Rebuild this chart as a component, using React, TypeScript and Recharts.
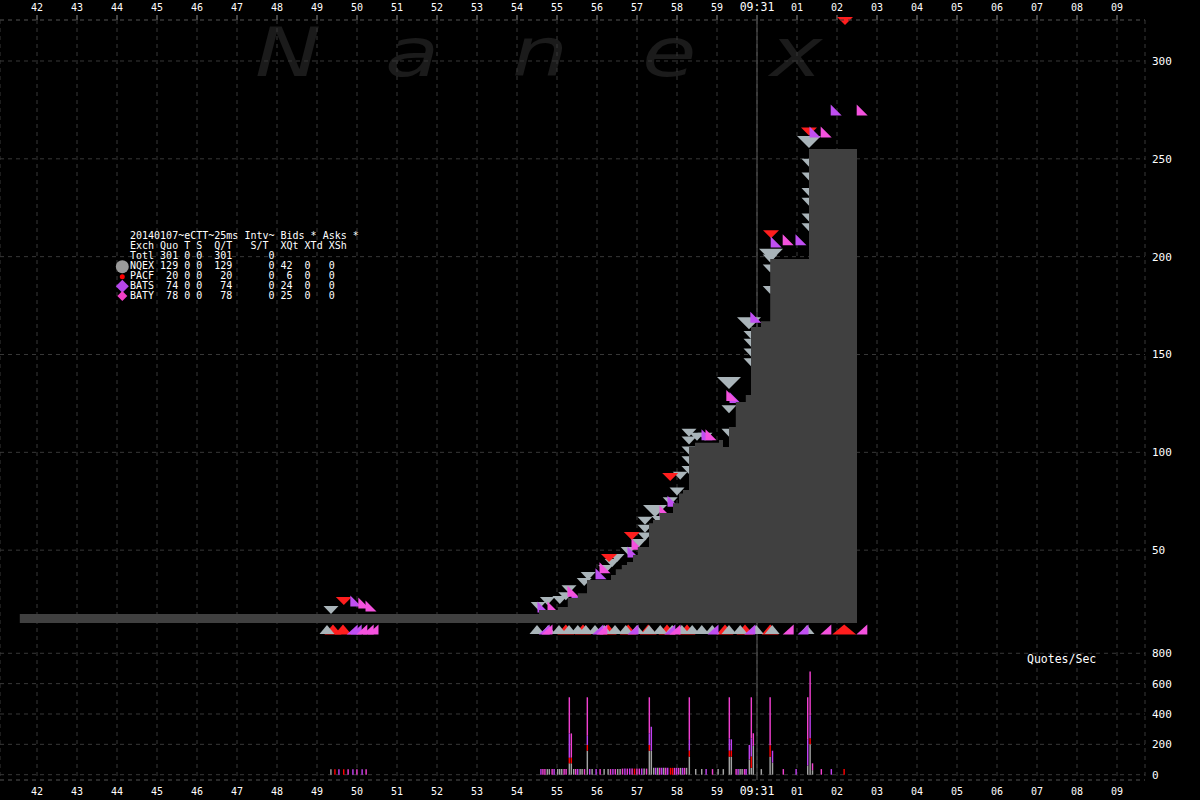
import React from 'react';
import { ComposedChart, Area, Scatter, Bar, XAxis, YAxis, CartesianGrid, ReferenceLine } from 'recharts';

const MONO = "'DejaVu Sans Mono', 'Liberation Mono', monospace";

// time axis: seconds relative to 09:31:00
const secondTicks = [-18, -17, -16, -15, -14, -13, -12, -11, -10, -9, -8, -7, -6, -5, -4, -3, -2, -1, 0, 1, 2, 3, 4, 5, 6, 7, 8, 9];
const secondLabels = ['42', '43', '44', '45', '46', '47', '48', '49', '50', '51', '52', '53', '54', '55', '56', '57', '58', '59', '09:31', '01', '02', '03', '04', '05', '06', '07', '08', '09'];
const priceTicks = [50, 100, 150, 200, 250, 300];
const quoteTicks = [0, 200, 400, 600, 800];

// best bid, stepped
const bidTimes = [-18.43, -5.45, -4.98, -4.73, -4.48, -4.25, -3.65, -3.53, -3.38, -3.25, -3.1, -2.98, -2.7, -2.6, -2.43, -2.1, -1.95, -1.85, -1.7, -1.55, -0.95, -0.85, -0.7, -0.53, -0.28, -0.15, 0.1, 0.33, 1.3, 2.5];
const bidLevels = [17.4, 19.4, 21, 25.5, 28, 34.7, 37.3, 40.3, 42.4, 44, 47.5, 51.6, 63.8, 65.4, 69, 74, 79, 80.7, 102.7, 104.9, 106.3, 102.7, 112.9, 125.7, 129.3, 164, 167, 198.8, 255, 255];

// quote markers [time, price]
const nqexBig = [[-0.7, 135.4], [1.3, 258.6], [-0.2, 166], [-2.55, 70], [0.35, 201]];
const nqexSmall = [
  [-10.65, 19.4], [-5.47, 21.5], [-5.24, 24], [-4.93, 24.5], [-4.78, 26.5], [-4.7, 30], [-4.32, 33.7], [-4.22, 36.8],
  [-3.78, 40.4], [-3.62, 43.4], [-3.5, 46], [-3.22, 49.6], [-2.95, 53.7], [-2.8, 57], [-2.8, 61], [-2.8, 65],
  [-2.45, 65.4], [-2.17, 75], [-2.0, 80], [-1.92, 88], [-1.7, 91], [-1.7, 96], [-1.7, 101], [-1.7, 106], [-1.7, 110],
  [-1.5, 108], [-1.3, 108], [-0.7, 110], [-0.7, 122], [-0.15, 146], [-0.15, 151], [-0.15, 156], [-0.15, 160],
  [0.33, 183], [0.33, 194], [0.33, 199], [1.3, 215], [1.3, 220], [1.3, 228], [1.3, 233], [1.3, 241], [1.3, 248],
];
const pacfBids = [[-10.33, 24], [-3.7, 46], [-3.13, 57.2], [-2.17, 87.4], [0.35, 211.5], [1.3, 264], [2.2, 320.5]];
const batsBids = [[-10.03, 24], [-5.35, 21], [-4.5, 27], [-3.9, 38], [-3.1, 49], [-2.1, 75], [-1.25, 109], [-0.55, 128], [-0.03, 169], [0.48, 207.5], [1.1, 208.6], [1.45, 263.7], [1.98, 275]];
const batyBids = [[-9.83, 23], [-9.65, 21.5], [-5.1, 21], [-4.6, 29], [-3.8, 41], [-3.0, 53], [-2.3, 70], [-1.15, 109], [-0.63, 129], [0.78, 208.6], [1.73, 263.7], [2.63, 275]];

const askLevel = 9.4;
const nqexAsks = [-10.75, -5.5, -5.22, -4.95, -4.7, -4.48, -4.28, -4.05, -3.82, -3.55, -3.28, -3.0, -2.7, -2.42, -2.12, -1.88, -1.62, -1.38, -1.12, -0.7, -0.42, -0.02, 0.38, 1.25];
const pacfAsks = [-10.6, -10.35, -4.78, -4.35, -3.72, -3.22, -2.72, -2.25, -1.75, -0.8, -0.3, 0.33];
const pacfAskBig = [2.18];
const batsAsks = [-10.12, -10.02, -5.32, -3.98, -3.1, -2.18, -1.1, -0.18, 1.15];
const batyAsks = [-9.88, -9.72, -9.6, -5.25, -3.88, -2.05, 0.78, 1.72, 2.62];

// quotes/sec spikes: time, NQEX, PACF, BATS, BATY
const spikeTimes = [-4.69, -4.64, -4.24, -2.69, -2.64, -1.69, -0.69, -0.64, -0.19, -0.14, -0.09, 0.33, 0.39, 1.27, 1.33, 1.39];
const spikeNqex = [75, 75, 158, 158, 158, 119, 119, 119, 100, 45, 190, 119, 80, 60, 200, 30];
const spikePacf = [37, 37, 38, 38, 0, 40, 40, 40, 0, 75, 0, 75, 0, 0, 40, 0];
const spikeBats = [160, 0, 60, 77, 158, 70, 80, 74, 96, 120, 0, 0, 78, 170, 150, 0];
const spikeBaty = [238, 160, 254, 237, 0, 281, 271, 0, 0, 270, 83, 316, 0, 280, 290, 45];

// low-rate quotes/sec [time, value]
const baseNqex = [[-10.65, 36], [-5.24, 37], [-5.19, 37], [-4.98, 37], [-4.93, 37], [-4.88, 37], [-4.58, 37], [-4.42, 37], [-4.37, 37], [-4.12, 37], [-3.82, 37], [-3.72, 37], [-3.48, 37], [-3.42, 37], [-2.82, 40], [-2.58, 45], [-2.48, 45], [-2.33, 45], [-1.91, 45], [-1.76, 45], [-1.53, 37], [-1.38, 37], [-0.97, 37], [-0.84, 37], [-0.42, 37], [-0.37, 37], [0.11, 37]];
const basePacf = [[-10.55, 36], [-10.33, 36], [-3.06, 40], [-2.16, 45], [-2.11, 45], [2.18, 37]];
const baseBats = [[-10.45, 36], [-10.1, 36], [-9.87, 36], [-5.4, 37], [-5.07, 37], [-4.48, 37], [-4.18, 37], [-4.02, 37], [-3.6, 37], [-3.3, 40], [-3.18, 40], [-2.88, 40], [-2.53, 45], [-2.38, 45], [-2.23, 45], [-2.01, 45], [-1.86, 45], [-1.27, 37], [-0.47, 37], [-0.27, 37], [0.98, 37], [1.86, 37]];
const baseBaty = [[-10.22, 36], [-10.0, 36], [-9.77, 36], [-5.35, 37], [-5.3, 37], [-5.12, 37], [-4.82, 37], [-4.77, 37], [-4.53, 37], [-4.31, 37], [-3.92, 37], [-3.66, 37], [-3.54, 37], [-3.36, 40], [-3.24, 40], [-3.12, 40], [-3.0, 40], [-2.94, 40], [-2.76, 40], [-2.43, 45], [-2.28, 45], [-2.06, 45], [-1.96, 45], [-1.81, 45], [-1.11, 37], [-0.52, 37], [-0.31, 37], [0.66, 37], [1.61, 37]];

const legendLines = [
  '20140107~eCTT~25ms Intv~ Bids * Asks *',
  'Exch Quo T S  Q/T   S/T  XQt XTd XSh',
  'Totl 301 0 0  301      0',
  'NQEX 129 0 0  129      0 42  0   0',
  'PACF  20 0 0   20      0  6  0   0',
  'BATS  74 0 0   74      0 24  0   0',
  'BATY  78 0 0   78      0 25  0   0',
];

const GRAY = '#a9b4b9';
const RED = '#ff1e1e';
const PURPLE = '#c04ff2';
const PINK = '#f452de';

const stepData = bidTimes.map((t, i) => ({ t, v: bidLevels[i] }));
const pts = (arr: number[][]) => arr.map(([t, v]) => ({ t, v }));
const askPts = (arr: number[]) => arr.map((t) => ({ t, v: askLevel }));

const quoteRows = [
  ...spikeTimes.map((t, i) => ({ t, g: spikeNqex[i], r: spikePacf[i], p: spikeBats[i], k: spikeBaty[i] })),
  ...baseNqex.map(([t, q]) => ({ t, g: q, r: 0, p: 0, k: 0 })),
  ...basePacf.map(([t, q]) => ({ t, g: 0, r: q, p: 0, k: 0 })),
  ...baseBats.map(([t, q]) => ({ t, g: 0, r: 0, p: q, k: 0 })),
  ...baseBaty.map(([t, q]) => ({ t, g: 0, r: 0, p: 0, k: q })),
].sort((a, b) => a.t - b.t);

const tri = (kind: string, w: number, h: number, fill: string) => (p: any) => {
  const { cx, cy } = p;
  if (cx == null || cy == null) return <g />;
  const l = cx - w / 2, r = cx + w / 2, t = cy - h / 2, b = cy + h / 2;
  let points = '';
  if (kind === 'down') points = `${l},${t} ${r},${t} ${cx},${b}`;
  else if (kind === 'up') points = `${l},${b} ${r},${b} ${cx},${t}`;
  else if (kind === 'sw') points = `${l},${t} ${l},${b} ${r},${b}`;
  else points = `${r},${t} ${r},${b} ${l},${b}`;
  return <polygon points={points} fill={fill} />;
};

function TimeTick(props: any) {
  const { x, y, payload } = props;
  const i = secondTicks.indexOf(payload.value);
  const big = payload.value === 0;
  return (
    <text x={x} y={y} textAnchor="middle" fill="#ffffff" fontSize={big ? 11.5 : 10} fontFamily={MONO}>
      {secondLabels[i] ?? ''}
    </text>
  );
}

const X_DOMAIN = [-18.925, 9.7];
const valueTick = { fill: '#ffffff', fontSize: 11, fontFamily: MONO };
const watermark = [['N', 255], ['a', 385], ['n', 512], ['e', 642], ['x', 770]];

export default function App() {
  return (
    <div style={{ position: 'absolute', left: 0, top: 0, width: 1200, height: 800, background: '#000', overflow: 'hidden' }}>
      {watermark.map(([ch, left]) => (
        <span key={String(left)} style={{ position: 'absolute', left: Number(left), top: 19, fontFamily: "'DejaVu Sans', sans-serif", fontStyle: 'italic', fontSize: 68, lineHeight: 1, color: '#1b1b1b', transform: 'scaleX(1.3)', transformOrigin: 'left top' }}>
          {ch}
        </span>
      ))}

      <div style={{ position: 'absolute', left: 0, top: 0 }}>
        <ComposedChart width={1200} height={800} data={stepData} margin={{ top: 0, right: 0, bottom: 20, left: 0 }}>
          <CartesianGrid stroke="#383838" strokeDasharray="4 4" />
          <XAxis dataKey="t" type="number" orientation="top" height={20} domain={X_DOMAIN} ticks={secondTicks} interval={0}
            tick={(p: any) => <TimeTick {...p} />} tickSize={5} tickMargin={4} tickLine={{ stroke: '#888' }} axisLine={false} />
          <YAxis type="number" orientation="right" width={55} domain={[-67.46, 320.95]} ticks={priceTicks} interval={0}
            tickLine={false} axisLine={false} tickSize={0} tickMargin={7} tick={valueTick} />
          <ReferenceLine x={0} stroke="#5a5a5a" />
          <Scatter data={pts(nqexSmall)} dataKey="v" shape={tri('down', 15, 8, GRAY)} isAnimationActive={false} />
          <Scatter data={pts(nqexBig)} dataKey="v" shape={tri('down', 24, 12, GRAY)} isAnimationActive={false} />
          <Scatter data={pts(pacfBids)} dataKey="v" shape={tri('down', 16, 8, RED)} isAnimationActive={false} />
          <Scatter data={pts(batsBids)} dataKey="v" shape={tri('sw', 11, 11, PURPLE)} isAnimationActive={false} />
          <Scatter data={pts(batyBids)} dataKey="v" shape={tri('sw', 11, 11, PINK)} isAnimationActive={false} />
          <Area type="stepAfter" dataKey="v" baseValue={12.8} fill="#404040" fillOpacity={1} stroke="none" isAnimationActive={false} zIndex={700} />
          <Scatter data={askPts(pacfAsks)} dataKey="v" shape={tri('up', 17, 10, RED)} isAnimationActive={false} zIndex={710} />
          <Scatter data={askPts(nqexAsks)} dataKey="v" shape={tri('up', 15, 9, GRAY)} isAnimationActive={false} zIndex={720} />
          <Scatter data={askPts(pacfAskBig)} dataKey="v" shape={tri('up', 24, 10, RED)} isAnimationActive={false} zIndex={720} />
          <Scatter data={askPts(batsAsks)} dataKey="v" shape={tri('se', 11, 10, PURPLE)} isAnimationActive={false} zIndex={730} />
          <Scatter data={askPts(batyAsks)} dataKey="v" shape={tri('se', 11, 10, PINK)} isAnimationActive={false} zIndex={730} />
        </ComposedChart>
      </div>

      <div style={{ position: 'absolute', left: 0, top: 0 }}>
        <ComposedChart width={1200} height={800} data={quoteRows} margin={{ top: 20, right: 0, bottom: 0, left: 0 }}>
          <CartesianGrid stroke="#383838" strokeDasharray="4 4" vertical={false} />
          <XAxis dataKey="t" type="number" orientation="bottom" height={20} domain={X_DOMAIN} allowDataOverflow ticks={secondTicks} interval={0}
            tick={(p: any) => <TimeTick {...p} />} tickSize={0} tickMargin={15} tickLine={false} axisLine={false} />
          <YAxis type="number" orientation="right" width={55} domain={[-35, 4973]} allowDataOverflow ticks={quoteTicks} interval={0}
            tickLine={false} axisLine={false} tickSize={0} tickMargin={7} tick={valueTick} />
          <Bar dataKey="g" stackId="q" fill="#a3a3a3" barSize={2} isAnimationActive={false} />
          <Bar dataKey="r" stackId="q" fill="#ff0000" barSize={2} isAnimationActive={false} />
          <Bar dataKey="p" stackId="q" fill="#c040f0" barSize={2} isAnimationActive={false} />
          <Bar dataKey="k" stackId="q" fill="#f040d0" barSize={2} isAnimationActive={false} />
        </ComposedChart>
      </div>

      <div style={{ position: 'absolute', left: 1027, top: 652, fontFamily: MONO, fontSize: 11.5, lineHeight: '14px', color: '#fff', whiteSpace: 'pre' }}>
        Quotes/Sec
      </div>

      <div style={{ position: 'absolute', left: 130, top: 231, fontFamily: MONO, fontSize: 10, lineHeight: '10px', color: '#fff', whiteSpace: 'pre' }}>
        {legendLines.join('\n')}
      </div>
      <svg style={{ position: 'absolute', left: 110, top: 255 }} width={25} height={50}>
        <circle cx={12.3} cy={11.7} r={6.5} fill="#9a9a9a" />
        <circle cx={12.3} cy={21.7} r={2.5} fill="#ff0000" />
        <polygon points="12.3,24.8 18.8,31.3 12.3,37.8 5.8,31.3" fill="#b546ea" />
        <polygon points="12.3,36 17.3,41 12.3,46 7.3,41" fill="#f23fc6" />
      </svg>
    </div>
  );
}
